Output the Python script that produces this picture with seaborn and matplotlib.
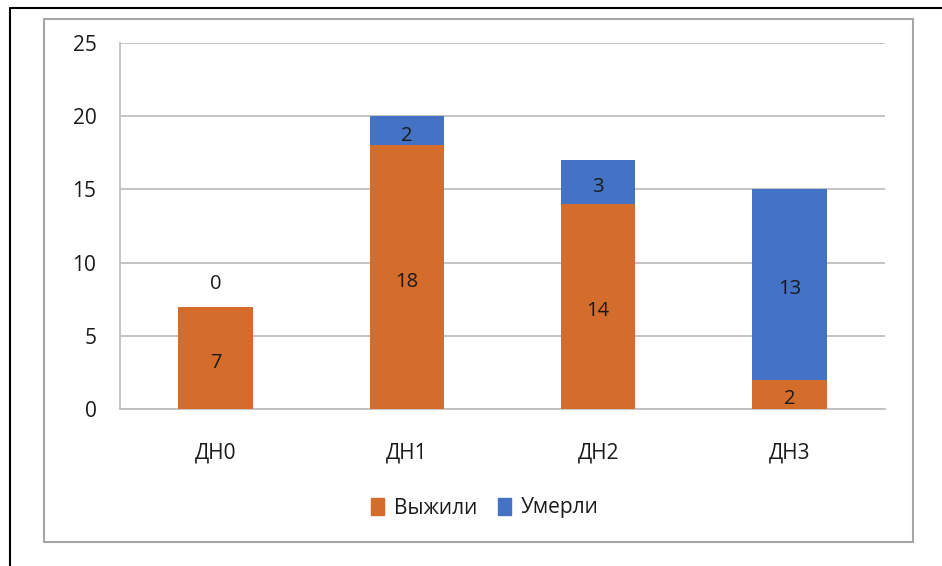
import matplotlib
matplotlib.use("Agg")
import matplotlib.pyplot as plt
from matplotlib.patches import Rectangle, Patch
from matplotlib.lines import Line2D
import seaborn as sns
import pandas as pd

groups = ["ДН0", "ДН1", "ДН2", "ДН3"]
survived = [7, 18, 14, 2]
died = [0, 2, 3, 13]
y_ticks = [0, 5, 10, 15, 20, 25]

ORANGE = "#D46D2C"
BLUE = "#4472C4"
GRID = "#BFBFBF"

sns.set_theme(style="white")
plt.rcParams["font.family"] = ["Open Sans", "DejaVu Sans"]

df = pd.DataFrame({"group": groups, "survived": survived, "died": died})

fig = plt.figure(figsize=(9.42, 5.66), dpi=100)
ax = fig.add_axes([120 / 942, 1 - 409 / 566, 765 / 942, 366 / 566])

sns.barplot(data=df, x="group", y="survived", color=ORANGE, width=0.39,
            saturation=1, linewidth=0, ax=ax, zorder=3)
sns.barplot(data=df, x="group", y="died", color=BLUE, width=0.39,
            saturation=1, linewidth=0, ax=ax, bottom=df["survived"], zorder=3)


def label(x, y, text, dy=-3.5):
    ax.annotate(text, (x, y), xytext=(0, dy), textcoords="offset points",
                ha="center", va="center", fontsize=14.5, color="#1a1a1a",
                zorder=4)


# data labels, centred in each segment (zero segments sit above the bar)
for i, (s, d) in enumerate(zip(survived, died)):
    label(i, s / 2, str(s))
    if d == 0:
        label(i, s, str(d), dy=16)
    else:
        label(i, s + d / 2, str(d))

ax.set_xlim(-0.5, 3.5)
ax.set_ylim(0, 25)
ax.set_yticks(y_ticks)
ax.yaxis.grid(True, color=GRID, linewidth=1.3)
ax.set_axisbelow(True)
for side in ["top", "right"]:
    ax.spines[side].set_visible(False)
ax.spines["left"].set_color(GRID)
ax.spines["left"].set_linewidth(1.3)
ax.spines["bottom"].set_color(GRID)
ax.spines["bottom"].set_linewidth(1.3)
ax.tick_params(axis="y", length=0, pad=17, labelsize=15, labelcolor="#1a1a1a")
ax.tick_params(axis="x", length=0, pad=24, labelsize=15, labelcolor="#1a1a1a")
ax.set_xlabel("")
ax.set_ylabel("")

handles = [Patch(color=ORANGE, label="Выжили"), Patch(color=BLUE, label="Умерли")]
fig.legend(handles=handles, loc="center", bbox_to_anchor=(485 / 942, 1 - 508 / 566),
           ncol=2, frameon=False, fontsize=15, handlelength=0.6, handleheight=0.9,
           handletextpad=0.5, columnspacing=1.0, labelcolor="#1a1a1a")

# inner chart border and outer frame lines
fig.patches.append(Rectangle((44 / 942, 1 - 542 / 566), 869 / 942, 523 / 566,
                             transform=fig.transFigure, fill=False,
                             edgecolor="#A6A6A6", linewidth=1.5))
fig.lines.append(Line2D([10 / 942, 10 / 942], [0, 1 - 8 / 566],
                        transform=fig.transFigure, color="black", linewidth=1.5))
fig.lines.append(Line2D([10 / 942, 1], [1 - 8 / 566, 1 - 8 / 566],
                        transform=fig.transFigure, color="black", linewidth=1.5))

fig.savefig("out.png", dpi=100)
